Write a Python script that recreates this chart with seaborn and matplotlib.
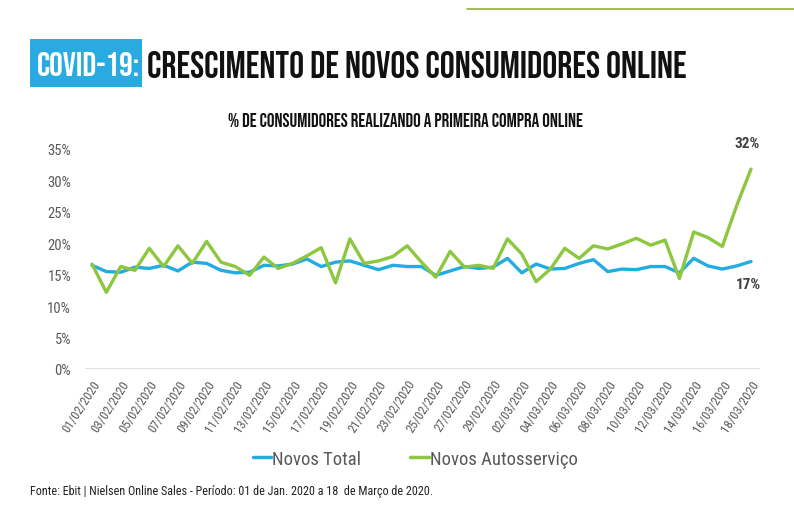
import numpy as np
import pandas as pd
import matplotlib
matplotlib.use("Agg")
import matplotlib.pyplot as plt
import seaborn as sns
from matplotlib.lines import Line2D
from matplotlib.patches import Rectangle

# ---------------- data ----------------
dates = pd.date_range("2020-02-01", "2020-03-18", freq="D")
date_labels = [d.strftime("%d/%m/%Y") for d in dates]

novos_total = [16.5, 15.5, 15.4, 16.2, 16.0, 16.5, 15.6, 17.0, 16.8, 15.7,
               15.3, 15.4, 16.5, 16.4, 16.7, 17.5, 16.3, 17.0, 17.2, 16.5,
               15.8, 16.5, 16.3, 16.3, 14.9, 15.6, 16.3, 16.0, 16.2, 17.6,
               15.3, 16.7, 15.9, 16.0, 16.8, 17.4, 15.5, 15.9, 15.8, 16.3,
               16.3, 15.3, 17.6, 16.4, 15.9, 16.4, 17.1]

novos_autosservico = [16.7, 12.2, 16.3, 15.7, 19.2, 16.3, 19.6, 16.8, 20.3, 17.0,
                      16.3, 14.9, 17.8, 16.0, 16.8, 18.0, 19.3, 13.7, 20.7, 16.8,
                      17.2, 17.9, 19.6, 17.0, 14.6, 18.7, 16.2, 16.5, 16.0, 20.7,
                      18.3, 13.9, 15.9, 19.2, 17.6, 19.6, 19.1, 19.9, 20.8, 19.7,
                      20.5, 14.4, 21.8, 20.9, 19.5, 26.0, 31.8]

series_names = ["Novos Total", "Novos Autosserviço"]
y_ticks = [0, 5, 10, 15, 20, 25, 30, 35]
end_labels = ["32%", "17%"]

BLUE = "#22ACE2"
GREEN = "#8DC63F"
GRAY = "#595959"

df = pd.DataFrame({
    "day": list(range(len(dates))) * 2,
    "value": novos_total + novos_autosservico,
    "serie": [series_names[0]] * len(dates) + [series_names[1]] * len(dates),
})

# ---------------- figure ----------------
sns.set_theme(style="white")
plt.rcParams["font.family"] = ["Roboto Condensed", "DejaVu Sans"]
BEBAS = ["Bebas Neue", "DejaVu Sans"]
NARROW = ["Roboto Condensed", "DejaVu Sans"]

fig = plt.figure(figsize=(7.94, 5.10), dpi=100)
ax = fig.add_axes([85 / 794, 1 - 370 / 510, 675 / 794, 220 / 510])

sns.lineplot(data=df, x="day", y="value", hue="serie",
             palette=[BLUE, GREEN], linewidth=2.4, ax=ax, legend=False,
             solid_joinstyle="round", solid_capstyle="round")

n = len(dates)
ax.set_xlim(-7 / 14.33, (n - 1) + 9 / 14.33)
ax.set_ylim(0, 35)
ax.axhline(0, color="#D9D9D9", lw=1.2, zorder=0)

for s in ax.spines.values():
    s.set_visible(False)
ax.set_xlabel("")
ax.set_ylabel("")

ax.set_yticks(y_ticks)
ax.set_yticklabels([f"{v}%" for v in y_ticks], color=GRAY, fontsize=10.5, family=NARROW)
ax.tick_params(axis="y", length=0, pad=10)

xt = list(range(0, n, 2))
ax.set_xticks(xt)
ax.set_xticklabels([date_labels[i] for i in xt], rotation=57, ha="right",
                   rotation_mode="anchor", color=GRAY, fontsize=9, family=NARROW)
ax.tick_params(axis="x", length=0, pad=6)

# end labels
ax.annotate(end_labels[0], xy=(n - 1, novos_autosservico[-1]), xytext=(-3, 19),
            textcoords="offset points", ha="center", va="center",
            fontsize=11, fontweight="bold", color="#404040", family=NARROW)
ax.annotate(end_labels[1], xy=(n - 1, novos_total[-1]), xytext=(-2, -16),
            textcoords="offset points", ha="center", va="center",
            fontsize=11, fontweight="bold", color="#404040", family=NARROW)

# legend
handles = [Line2D([0], [0], color=BLUE, lw=2.5), Line2D([0], [0], color=GREEN, lw=2.5)]
leg = fig.legend(handles, series_names, loc="center", bbox_to_anchor=(415 / 794, 1 - 460 / 510),
                 ncol=2, frameon=False, handlelength=1.0, handletextpad=0.05,
                 columnspacing=2.6, prop={"family": NARROW, "size": 13.5})
for t in leg.get_texts():
    t.set_color(GRAY)

# titles
fig.add_artist(Rectangle((30 / 794, 1 - 88 / 510), 112 / 794, 48 / 510,
                         transform=fig.transFigure, fc="#29ABE2", ec="none", zorder=0))
t_covid = fig.text(37 / 794, 1 - 64 / 510, "COVID-19:", color="white", fontsize=34,
                   family=BEBAS, va="center", ha="left")
t_main = fig.text(147 / 794, 1 - 64 / 510, "CRESCIMENTO DE NOVOS CONSUMIDORES ONLINE",
                  color="#111111", fontsize=34, family=BEBAS, va="center", ha="left")
t_sub = fig.text(405 / 794, 1 - 120 / 510, "% DE CONSUMIDORES REALIZANDO A PRIMEIRA COMPRA ONLINE",
                 color="#111111", fontsize=13, family=BEBAS, va="center", ha="center")
t_foot = fig.text(30 / 794, 1 - 492 / 510,
                  "Fonte: Ebit | Nielsen Online Sales - Período: 01 de Jan. 2020 a 18  de Março de 2020.",
                  color="#222222", fontsize=8, family=NARROW, va="center", ha="left")

# fit widths to the reference
fig.canvas.draw()
r = fig.canvas.get_renderer()
for txt, target in [(t_covid, 103), (t_main, 538), (t_sub, 355), (t_foot, 402)]:
    w = txt.get_window_extent(r).width
    txt.set_fontsize(txt.get_fontsize() * target / w)

# decorative top line
fig.add_artist(Line2D([467 / 794, 1.0], [1 - 10 / 510, 1 - 10 / 510], color="#8DB33A",
                      lw=1.2, transform=fig.transFigure))

fig.savefig("out.png", dpi=100)
